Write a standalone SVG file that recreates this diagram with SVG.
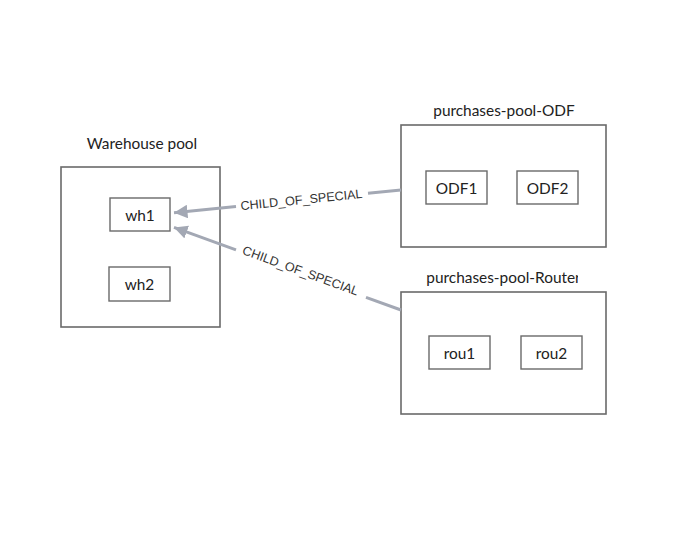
<svg xmlns="http://www.w3.org/2000/svg" width="690" height="535" viewBox="0 0 690 535">
<style>
.grp{fill:#fff;stroke:#6a6a6a;stroke-width:1.6}
.node{fill:#fff;stroke:#6a6a6a;stroke-width:1.4}
.gl{font-family:Lato,"Liberation Sans",sans-serif;font-size:15.4px;fill:#222;text-anchor:middle;dominant-baseline:central}
.nl{font-family:Lato,"Liberation Sans",sans-serif;font-size:15.4px;fill:#222;text-anchor:middle;dominant-baseline:central}
.edge{stroke:#a3a8b4;stroke-width:3;fill:none}
.el{font-family:"Liberation Sans",Arial,sans-serif;font-size:12.6px;fill:#333;text-anchor:middle;dominant-baseline:central}
</style>
<defs>
<marker id="arr" viewBox="0 0 10 10" refX="10" refY="5" markerWidth="4.5" markerHeight="4.5" markerUnits="strokeWidth" orient="auto">
<path d="M0,0 L10,5 L0,10 z" fill="#a3a8b4"/>
</marker>
<clipPath id="rclip"><rect x="380" y="260" width="198" height="40"/></clipPath>
</defs>
<rect width="690" height="535" fill="#fff"/>
<g id="warehouse-pool">
<text class="gl" x="142" y="143">Warehouse pool</text>
<rect class="grp" x="61" y="167" width="159" height="160"/>
</g>
<g id="purchases-pool-ODF">
<text class="gl" x="504" y="110">purchases-pool-ODF</text>
<rect class="grp" x="401" y="125" width="205" height="122"/>
</g>
<g id="purchases-pool-Router">
<text class="gl" x="503.5" y="277" clip-path="url(#rclip)">purchases-pool-Router</text>
<rect class="grp" x="401" y="292" width="205" height="122"/>
</g>
<g id="wh1"><rect class="node" x="110" y="198" width="60" height="33"/><text class="nl" x="140" y="214.5">wh1</text></g>
<g id="wh2"><rect class="node" x="109" y="267" width="61" height="34"/><text class="nl" x="139.5" y="284">wh2</text></g>
<g id="ODF1"><rect class="node" x="426" y="171" width="61" height="33"/><text class="nl" x="456.5" y="187.5">ODF1</text></g>
<g id="ODF2"><rect class="node" x="517" y="171" width="61" height="33"/><text class="nl" x="547.5" y="187.5">ODF2</text></g>
<g id="rou1"><rect class="node" x="429" y="336" width="61" height="33"/><text class="nl" x="459.5" y="352.5">rou1</text></g>
<g id="rou2"><rect class="node" x="521" y="336" width="61" height="33"/><text class="nl" x="551.5" y="352.5">rou2</text></g>
<g id="connectors">
<line class="edge" x1="401" y1="190" x2="368" y2="193.3"/>
<line class="edge" x1="236" y1="206.6" x2="174" y2="212.8" marker-end="url(#arr)"/>
<text class="el" transform="translate(301.5,200) rotate(-5.76)">CHILD_OF_SPECIAL</text>
<line class="edge" x1="401" y1="310" x2="366" y2="297.3"/>
<line class="edge" x1="236" y1="249.9" x2="174" y2="227.4" marker-end="url(#arr)"/>
<text class="el" transform="translate(300.5,271) rotate(20)">CHILD_OF_SPECIAL</text>
</g>
</svg>
